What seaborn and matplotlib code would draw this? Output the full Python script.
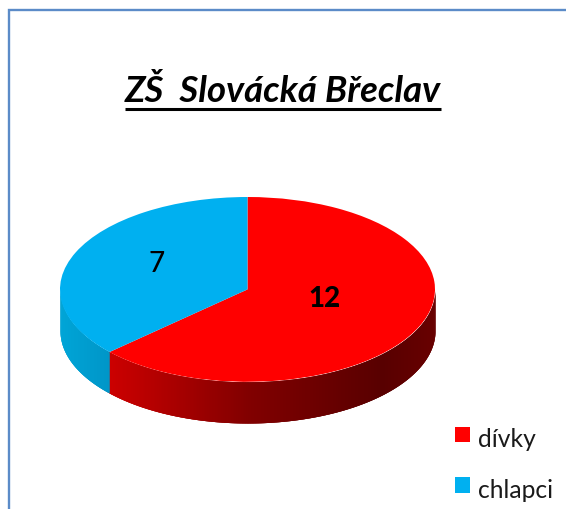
import numpy as np
import matplotlib.pyplot as plt
from matplotlib.lines import Line2D
from matplotlib.patches import Rectangle
import seaborn as sns

# data
categories = ['dívky', 'chlapci']
values = [12, 7]
colors = ['#ff0000', '#00b0f0']
title = 'ZŠ  Slovácká Břeclav'

W, H = 566, 509
depth = 41 / 92  # height of the side wall, in pie radii

sns.set_theme(style='white')
plt.rcParams['font.family'] = ['Lato', 'DejaVu Sans']

fig = plt.figure(figsize=(W / 100, H / 100), dpi=100, facecolor='white')

# outer frame, runs off the right and bottom edge
fig.add_artist(Rectangle((9 / W, -0.1), 1.2, 1.1 - 10 / H, transform=fig.transFigure,
                         fill=False, ec='#5b8bc8', lw=1.7))

# axes spans the ellipse plus the side wall, pie gets squashed by aspect auto
left, right, top, bottom = 60, 435, 197, 423
ax = fig.add_axes([left / W, 1 - bottom / H, (right - left) / W, (bottom - top) / H])
wedges, _ = ax.pie(values, colors=colors, startangle=90, counterclock=False, radius=1,
                   wedgeprops={'lw': 0}, center=(0, 0))
ax.set_aspect('auto')
ax.set_xlim(-1, 1)
ax.set_ylim(-1 - depth, 1)
for w in wedges:
    w.set_zorder(3)

# side wall, overlapping strips with a gradient so no seams show
split = 360 * values[0] / sum(values)
angles = np.arange(90, 270, 0.5)
for a0 in angles:
    t = np.radians(np.linspace(a0, min(a0 + 1.5, 270), 5))
    x, y = np.sin(t), np.cos(t)
    xm = np.sin(np.radians(a0))
    if a0 < split:
        r = np.interp(xm, [-0.74, 0.0, 0.72, 1.0], [205, 130, 88, 104])
        col = (r / 255, 0, 0)
    else:
        g = np.interp(xm, [-1.0, -0.74], [165, 150])
        col = (0, g / 255, (g + 50) / 255)
    order = np.argsort(x)
    ax.fill_between(x[order], y[order], y[order] - depth, color=col, lw=0, zorder=2 + a0 / 1000)

# slice values
ax.text(0.413, -0.10, str(values[0]), ha='center', va='center', fontsize=20,
        fontweight='black', color='black', zorder=5)
ax.text(-0.483, 0.28, str(values[1]), ha='center', va='center', fontsize=20,
        fontweight='medium', color='black', zorder=5)

fig.text(283 / W, 1 - 91 / H, title, ha='center', va='center', fontsize=26.3,
         fontweight='bold', fontstyle='italic', color='black')
fig.add_artist(Line2D([125 / W, 441 / W], [1 - 108.5 / H] * 2, color='black', lw=2.2,
                      solid_capstyle='butt'))

leg = fig.legend(wedges, categories, loc='upper left', bbox_to_anchor=(448 / W, 1 - 421 / H),
                 frameon=False, fontsize=17.7, handlelength=0.58, handleheight=0.58,
                 handletextpad=0.35, labelspacing=1.12, labelcolor='#1a1a1a',
                 borderpad=0.3, borderaxespad=0)
for h in leg.legend_handles:
    h.set_y(h.get_y() + 3)

fig.savefig('out.png', dpi=100)
